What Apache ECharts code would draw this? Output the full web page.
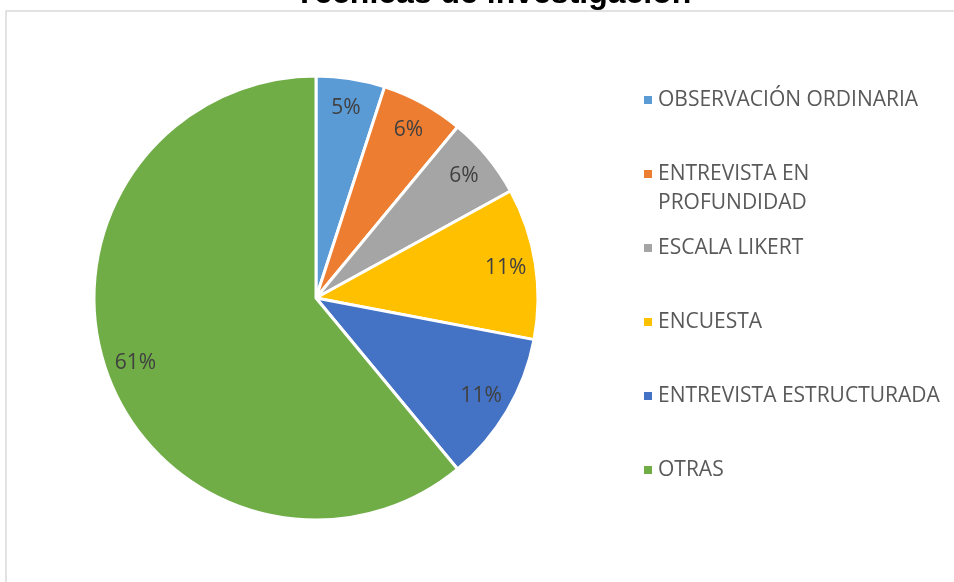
<!DOCTYPE html>
<html>
<head>
<meta charset="utf-8">
<script src="https://cdn.jsdelivr.net/npm/echarts@6/dist/echarts.min.js"></script>
<style>
  html, body { margin: 0; padding: 0; background: #fff; }
  #chart-container { width: 954px; height: 582px; }
</style>
</head>
<body>
<div id="chart-container"></div>
<script>
var categories = ['OBSERVACIÓN ORDINARIA', 'ENTREVISTA EN\nPROFUNDIDAD', 'ESCALA LIKERT', 'ENCUESTA', 'ENTREVISTA ESTRUCTURADA', 'OTRAS'];
var percentages = [5, 6, 6, 11, 11, 61];
var colors = ['#5b9bd5', '#ed7d31', '#a5a5a5', '#ffc000', '#4472c4', '#70ad47'];

var dom = document.getElementById('chart-container');
var myChart = echarts.init(dom, null, { renderer: 'canvas' });

var pieData = categories.map(function (name, i) {
  return { name: name, value: percentages[i], itemStyle: { color: colors[i] } };
});

// one legend per entry so every marker sits on a fixed 74px step,
// wrapped names keep the marker on their first line like excel does
var legendLineH = 29;
var legends = categories.map(function (name, i) {
  var wrapped = name.indexOf('\n') >= 0;
  var markerY = 100 + 74 * i;
  return {
    orient: 'vertical',
    left: 642,
    top: wrapped ? markerY - legendLineH * 1.5 : markerY - legendLineH / 2,
    padding: 0,
    itemWidth: 10,
    itemHeight: 10,
    icon: 'rect',
    selectedMode: false,
    data: [name],
    formatter: function (n) { return n.indexOf('\n') >= 0 ? '\n' + n : n; },
    textStyle: { fontFamily: 'Open Sans', fontSize: 21, color: '#595959', lineHeight: legendLineH }
  };
});

var option = {
  animation: false,
  title: {
    text: 'Técnicas de investigación',
    left: 488,
    textAlign: 'center',
    top: -27,
    textStyle: { fontFamily: 'Liberation Sans', fontSize: 32, fontWeight: 'bold', color: '#000' }
  },
  graphic: [{
    type: 'rect',
    shape: { x: 6, y: 11, width: 1000, height: 650 },
    style: { fill: 'none', stroke: '#d9d9d9', lineWidth: 1.5 },
    silent: true,
    z: -1
  }],
  legend: legends,
  series: [
    {
      type: 'pie',
      center: [316, 298],
      radius: [0, 222],
      startAngle: 90,
      clockwise: true,
      avoidLabelOverlap: false,
      itemStyle: { borderColor: '#fff', borderWidth: 3 },
      label: { show: false },
      labelLine: { show: false },
      emphasis: { disabled: true },
      data: pieData
    },
    {
      // label ring only, puts the percentages near the rim like the original
      type: 'pie',
      center: [316, 298],
      radius: [156, 222],
      startAngle: 90,
      clockwise: true,
      silent: true,
      avoidLabelOverlap: false,
      itemStyle: { color: 'transparent', borderWidth: 0 },
      label: {
        show: true,
        position: 'inside',
        formatter: '{c}%',
        fontFamily: 'Open Sans',
        fontSize: 21,
        color: '#404040'
      },
      labelLine: { show: false },
      emphasis: { disabled: true },
      data: percentages.map(function (v, i) { return { name: categories[i], value: v }; })
    }
  ]
};

myChart.setOption(option);
window.addEventListener('resize', myChart.resize);
</script>
</body>
</html>
